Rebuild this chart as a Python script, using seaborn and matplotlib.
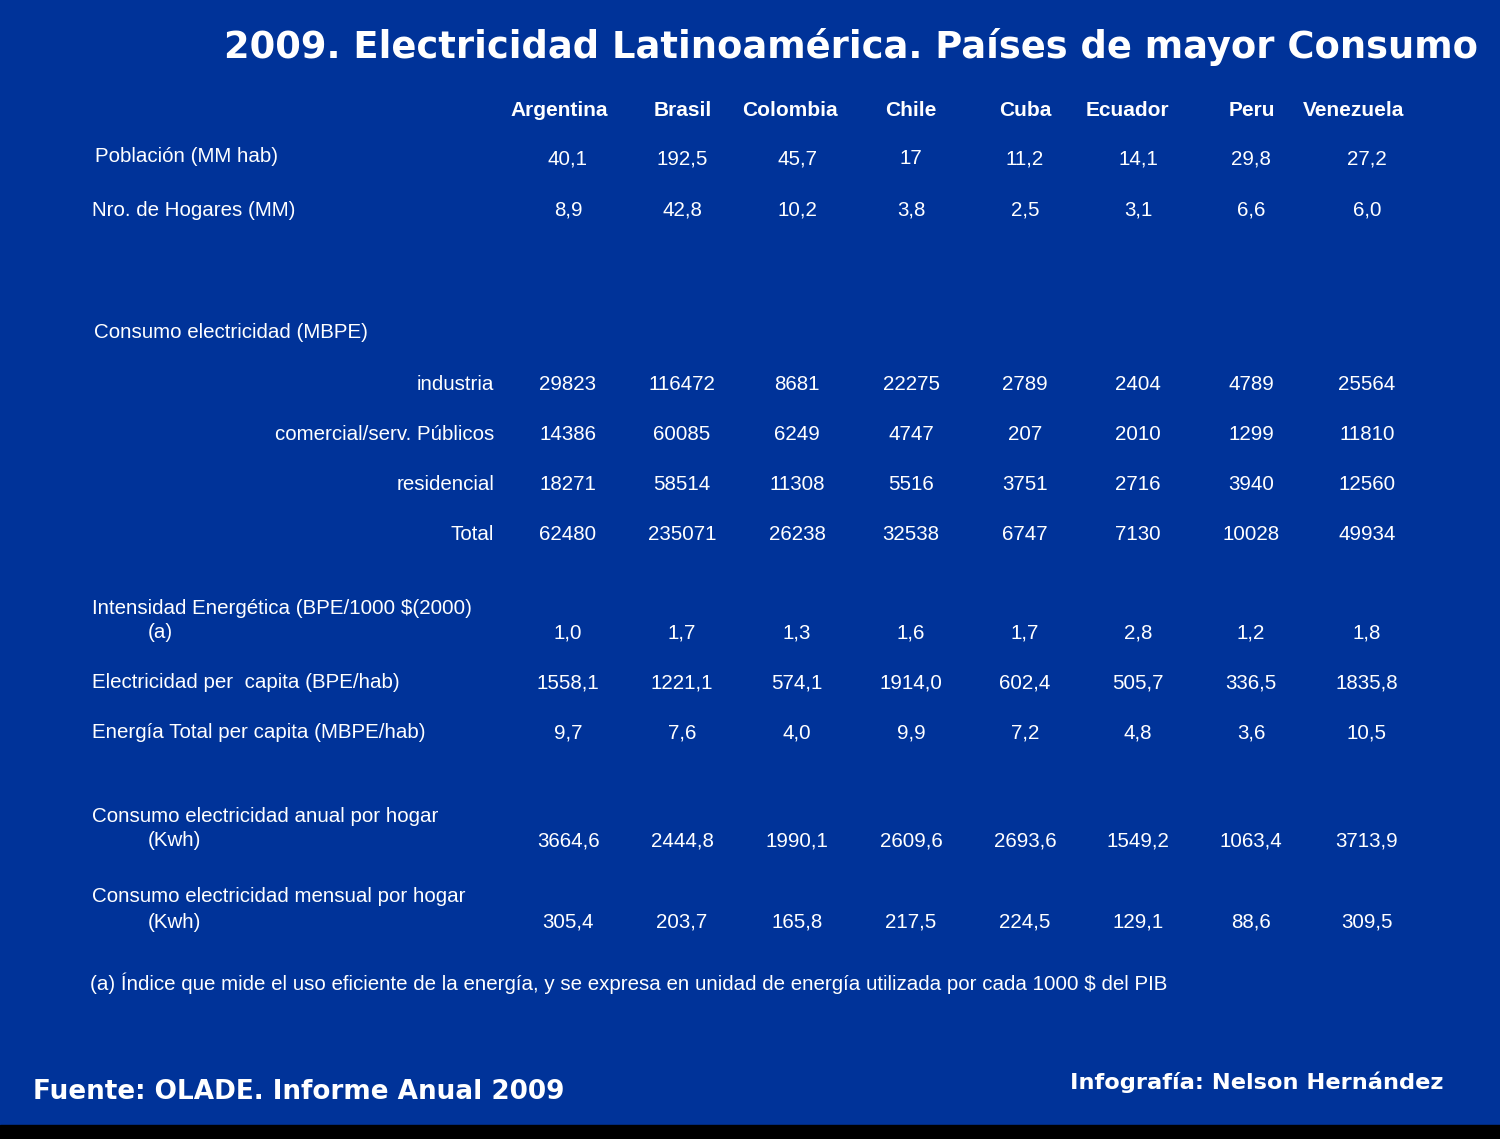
# -*- coding: utf-8 -*-
"""2009 electricidad Latinoamérica: tabla de países de mayor consumo."""
import matplotlib
import matplotlib.pyplot as plt
import seaborn as sns
from matplotlib.patches import Rectangle

matplotlib.use("Agg")

sns.set_theme(style="white")
plt.rcParams["font.family"] = ["Liberation Sans", "DejaVu Sans"]

BG = "#003399"

paises = ["Argentina", "Brasil", "Colombia", "Chile", "Cuba", "Ecuador", "Peru", "Venezuela"]

poblacion = ["40,1", "192,5", "45,7", "17", "11,2", "14,1", "29,8", "27,2"]
hogares = ["8,9", "42,8", "10,2", "3,8", "2,5", "3,1", "6,6", "6,0"]
industria = [29823, 116472, 8681, 22275, 2789, 2404, 4789, 25564]
comercial = [14386, 60085, 6249, 4747, 207, 2010, 1299, 11810]
residencial = [18271, 58514, 11308, 5516, 3751, 2716, 3940, 12560]
total = [62480, 235071, 26238, 32538, 6747, 7130, 10028, 49934]
intensidad = ["1,0", "1,7", "1,3", "1,6", "1,7", "2,8", "1,2", "1,8"]
elec_per_capita = ["1558,1", "1221,1", "574,1", "1914,0", "602,4", "505,7", "336,5", "1835,8"]
energia_per_capita = ["9,7", "7,6", "4,0", "9,9", "7,2", "4,8", "3,6", "10,5"]
consumo_anual = ["3664,6", "2444,8", "1990,1", "2609,6", "2693,6", "1549,2", "1063,4", "3713,9"]
consumo_mensual = ["305,4", "203,7", "165,8", "217,5", "224,5", "129,1", "88,6", "309,5"]

# layout (pixel coordinates on a 1500x1139 canvas)
header_x = [559, 683, 790, 911, 1025, 1127, 1252, 1354]
value_x = [568, 682, 797, 911, 1025, 1138, 1251, 1367]

rows = [
    # (etiqueta, segunda linea, valores, x etiqueta, y etiqueta, y valores, alineado derecha)
    ("Población (MM hab)", None, poblacion, 95, 157, 159, False),
    ("Nro. de Hogares (MM)", None, hogares, 92, 210, 210, False),
    ("Consumo electricidad (MBPE)", None, None, 94, 332, None, False),
    ("industria", None, industria, 494, 384, 384, True),
    ("comercial/serv. Públicos", None, comercial, 494, 434, 434, True),
    ("residencial", None, residencial, 494, 484, 484, True),
    ("Total", None, total, 494, 534, 534, True),
    ("Intensidad Energética (BPE/1000 $(2000)", "(a)", intensidad, 92, 608, 633, False),
    ("Electricidad per  capita (BPE/hab)", None, elec_per_capita, 92, 683, 683, False),
    ("Energía Total per capita (MBPE/hab)", None, energia_per_capita, 92, 733, 733, False),
    ("Consumo electricidad anual por hogar", "(Kwh)", consumo_anual, 92, 816, 841, False),
    ("Consumo electricidad mensual por hogar", "(Kwh)", consumo_mensual, 92, 897, 922, False),
]

fig = plt.figure(figsize=(15, 11.39), dpi=100, facecolor=BG)
ax = fig.add_axes([0, 0, 1, 1])
ax.set_facecolor(BG)
ax.set_xlim(0, 1500)
ax.set_ylim(1139, 0)
ax.axis("off")

ax.add_patch(Rectangle((0, 1125), 1500, 14, color="black", zorder=1))

ax.text(1478, 47, "2009. Electricidad Latinoamérica. Países de mayor Consumo",
        color="white", fontsize=26.6, fontweight="bold", family=["DejaVu Sans"],
        ha="right", va="center")

for x, p in zip(header_x, paises):
    ax.text(x, 110, p, color="white", fontsize=15, fontweight="bold",
            ha="center", va="center")

fs = 14.8
for label, sub, vals, x_lab, y_lab, y_val, right in rows:
    ax.text(x_lab, y_lab, label, color="white", fontsize=fs,
            ha="right" if right else "left", va="center")
    if sub:
        ax.text(148, y_lab + 25, sub, color="white", fontsize=fs, ha="left", va="center")
    if vals is not None:
        for x, v in zip(value_x, vals):
            ax.text(x, y_val, str(v), color="white", fontsize=fs, ha="center", va="center")

ax.text(90, 983,
        "(a) Índice que mide el uso eficiente de la energía, y se expresa en unidad de "
        "energía utilizada por cada 1000 $ del PIB",
        color="white", fontsize=fs, ha="left", va="center")

ax.text(33, 1092, "Fuente: OLADE. Informe Anual 2009", color="white", fontsize=18.9,
        fontweight="bold", family=["DejaVu Sans"], ha="left", va="center")
ax.text(1443, 1082, "Infografía: Nelson Hernández", color="white", fontsize=16.2,
        fontweight="bold", family=["DejaVu Sans"], ha="right", va="center")

fig.savefig("out.png", dpi=100, facecolor=BG)
plt.close(fig)
